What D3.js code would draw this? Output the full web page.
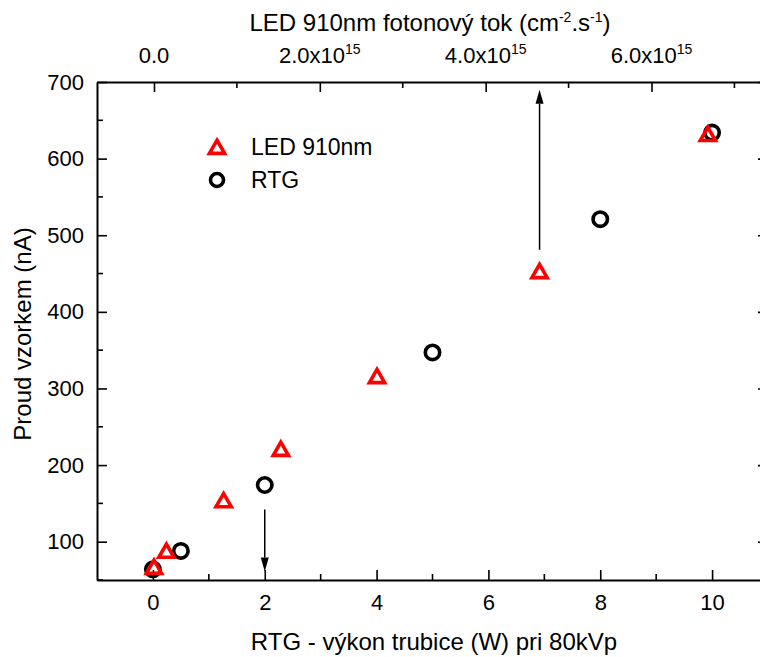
<!DOCTYPE html>
<html lang="cs">
<head>
    <meta charset="UTF-8">
    <title>Proud vzorkem</title>
    <script src="https://d3js.org/d3.v7.min.js"></script>
    <style>
        body { margin: 0; background: #fff; }
        svg { display: block; font-family: "Liberation Sans", Arial, sans-serif; }
        .tick-label { font-size: 22px; fill: #000; }
        .axis-title { font-size: 24px; fill: #000; }
        .legend-text { font-size: 23px; fill: #000; }
    </style>
</head>
<body>
    <svg></svg>

    <script>
        // RTG: tube power (W) vs. sample current (nA)
        const rtgPower = [0, 0.5, 2, 5, 8, 10];
        const rtgCurrent = [64, 88, 174, 347, 521, 634];

        // LED 910nm: photon flux (x1e15 cm^-2 s^-1) vs. sample current (nA)
        const ledFlux = [0, 0.15, 0.84, 1.53, 2.69, 4.65, 6.68];
        const ledCurrent = [67, 88, 154, 221, 316, 453, 632];

        // ticks
        const bottomTicks = [0, 2, 4, 6, 8, 10];
        const bottomMinor = [1, 3, 5, 7, 9];
        const topTicks = [0, 2, 4, 6];
        const topMinor = [1, 3, 5, 7];
        const yTicks = [100, 200, 300, 400, 500, 600, 700];
        const yMinor = [50, 150, 250, 350, 450, 550, 650];

        // arrows: [axis, x, fromCurrent, toCurrent]
        const arrows = [
            ["bottom", 2, 142, 61],
            ["top", 4.65, 481, 690]
        ];

        const width = 760, height = 657;
        const mLeft = 97, mRight = 768, mTop = 82, mBottom = 580;

        const svg = d3.select("svg")
            .attr("width", width)
            .attr("height", height);

        const x = d3.scaleLinear().domain([-1, 11]).range([mLeft, mRight]);
        const xTop = d3.scaleLinear().domain([-0.687, 7.405]).range([mLeft, mRight]);
        const y = d3.scaleLinear().domain([50, 700]).range([mBottom, mTop]);

        const axisG = svg.append("g");

        // bottom axis (ticks point inward)
        axisG.append("g")
            .attr("transform", `translate(0,${mBottom})`)
            .call(d3.axisBottom(x).tickValues(bottomTicks).tickSizeInner(-10).tickSizeOuter(0).tickPadding(14))
            .call(g => g.append("g").selectAll("line").data(bottomMinor).join("line")
                .attr("x1", d => x(d)).attr("x2", d => x(d)).attr("y1", 0).attr("y2", -6));

        // top axis
        axisG.append("g")
            .attr("transform", `translate(0,${mTop})`)
            .call(d3.axisTop(xTop).tickValues(topTicks).tickSizeInner(-10).tickSizeOuter(0)
                .tickFormat(() => ""))
            .call(g => g.append("g").selectAll("line").data(topMinor).join("line")
                .attr("x1", d => xTop(d)).attr("x2", d => xTop(d)).attr("y1", 0).attr("y2", 6));

        // top tick labels with superscript exponents
        const topLabels = svg.append("g").selectAll("text")
            .data(topTicks)
            .join("text")
            .attr("class", "tick-label")
            .attr("text-anchor", "middle")
            .attr("x", d => xTop(d))
            .attr("y", mTop - 19);
        topLabels.append("tspan").text(d => d === 0 ? "0.0" : d.toFixed(1) + "x10");
        topLabels.filter(d => d !== 0).append("tspan")
            .attr("dy", -9).attr("font-size", 14).text("15");

        // left axis
        axisG.append("g")
            .attr("transform", `translate(${mLeft},0)`)
            .call(d3.axisLeft(y).tickValues(yTicks).tickSizeInner(-10).tickSizeOuter(0).tickPadding(13))
            .call(g => g.append("g").selectAll("line").data(yMinor).join("line")
                .attr("y1", d => y(d)).attr("y2", d => y(d)).attr("x1", 0).attr("x2", 6));

        // right axis
        axisG.append("g")
            .attr("transform", `translate(${mRight},0)`)
            .call(d3.axisRight(y).tickValues(yTicks).tickSizeInner(-10).tickSizeOuter(0).tickFormat(() => ""))
            .call(g => g.append("g").selectAll("line").data(yMinor).join("line")
                .attr("y1", d => y(d)).attr("y2", d => y(d)).attr("x1", 0).attr("x2", -6));

        axisG.selectAll(".domain").attr("stroke", "#000").attr("stroke-width", 2);
        axisG.selectAll("line").attr("stroke", "#000").attr("stroke-width", 1.6);
        axisG.selectAll(".tick text").attr("class", "tick-label");
        axisG.selectAll("g").attr("font-size", null).attr("font-family", null);

        // axis titles
        svg.append("text")
            .attr("class", "axis-title")
            .attr("text-anchor", "middle")
            .attr("x", 434)
            .attr("y", 650)
            .text("RTG - výkon trubice (W) pri 80kVp");

        const topTitle = svg.append("text")
            .attr("class", "axis-title")
            .attr("text-anchor", "middle")
            .attr("x", 430)
            .attr("y", 31);
        topTitle.append("tspan").text("LED 910nm fotonový tok (cm");
        topTitle.append("tspan").attr("dy", -9).attr("font-size", 14).text("-2");
        topTitle.append("tspan").attr("dy", 9).text(".s");
        topTitle.append("tspan").attr("dy", -9).attr("font-size", 14).text("-1");
        topTitle.append("tspan").attr("dy", 9).text(")");

        svg.append("text")
            .attr("class", "axis-title")
            .attr("font-size", 25)
            .attr("text-anchor", "middle")
            .attr("transform", "translate(31,334) rotate(-90)")
            .text("Proud vzorkem (nA)");

        // symbols
        const triangle = d3.symbol().type(d3.symbolTriangle).size(100);

        const rtgData = rtgPower.map((p, i) => ({ p, c: rtgCurrent[i] }));
        const ledData = ledFlux.map((f, i) => ({ f, c: ledCurrent[i] }));

        svg.append("g").selectAll("circle")
            .data(rtgData)
            .join("circle")
            .attr("cx", d => x(d.p))
            .attr("cy", d => y(d.c))
            .attr("r", 7.2)
            .attr("fill", "none")
            .attr("stroke", "#000")
            .attr("stroke-width", 3.6);

        svg.append("g").selectAll("path")
            .data(ledData)
            .join("path")
            .attr("transform", d => `translate(${xTop(d.f)},${y(d.c) + 2})`)
            .attr("d", triangle)
            .attr("fill", "none")
            .attr("stroke", "#ff0000")
            .attr("stroke-width", 3.6);

        // arrows
        arrows.forEach(([axis, ax, from, to]) => {
            const px = axis === "top" ? xTop(ax) : x(ax);
            const y0 = y(from), y1 = y(to);
            const dir = y1 > y0 ? 1 : -1;
            const headLen = 14;
            svg.append("line")
                .attr("x1", px).attr("x2", px)
                .attr("y1", y0).attr("y2", y1 - dir * headLen)
                .attr("stroke", "#000").attr("stroke-width", 1.5);
            svg.append("path")
                .attr("d", `M${px},${y1} L${px - 4},${y1 - dir * headLen} L${px + 4},${y1 - dir * headLen} Z`)
                .attr("fill", "#000");
        });

        // legend
        const legend = svg.append("g");
        legend.append("path")
            .attr("transform", "translate(217,149)")
            .attr("d", triangle)
            .attr("fill", "none")
            .attr("stroke", "#ff0000")
            .attr("stroke-width", 3.6);
        legend.append("text")
            .attr("class", "legend-text")
            .attr("x", 251).attr("y", 147).attr("dy", "0.35em")
            .text("LED 910nm");
        legend.append("circle")
            .attr("cx", 217).attr("cy", 180).attr("r", 6.5)
            .attr("fill", "none").attr("stroke", "#000").attr("stroke-width", 3.6);
        legend.append("text")
            .attr("class", "legend-text")
            .attr("x", 251).attr("y", 180).attr("dy", "0.35em")
            .text("RTG");
    </script>
</body>
</html>
